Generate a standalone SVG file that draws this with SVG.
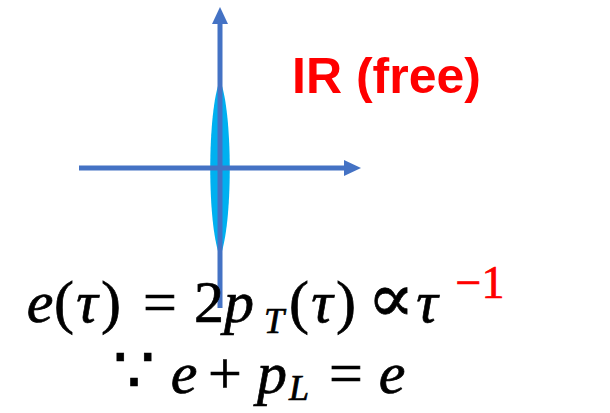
<svg xmlns="http://www.w3.org/2000/svg" width="610" height="413" viewBox="0 0 610 413">
<style>
.ax{stroke:#4472C4;stroke-width:5;fill:none}
.m{font-family:"Liberation Serif","DejaVu Serif",serif;fill:#000;stroke:#000;stroke-width:0.7;font-size:60px}
.i{font-style:italic}
.sub{font-size:36px;font-style:italic}
.dv{font-family:"DejaVu Serif",serif}
</style>
<defs>
<marker id="ah" markerUnits="userSpaceOnUse" markerWidth="17" markerHeight="17" refX="0" refY="8" orient="auto" viewBox="0 0 17 16">
<path d="M0,0 L17,8 L0,16 Z" fill="#4472C4"/>
</marker>
</defs>
<rect width="610" height="413" fill="#fff"/>
<g id="lens">
<path d="M220,80 C233,112 233,225 220,257 C207,225 207,112 220,80 Z" fill="#00B0F0"/>
</g>
<g id="connectors">
<line class="ax" x1="220" y1="308" x2="220" y2="24" marker-end="url(#ah)"/>
<line class="ax" x1="79" y1="168" x2="344" y2="168" marker-end="url(#ah)"/>
</g>
<g id="label">
<text x="292" y="93" font-family="Liberation Sans, Arial, sans-serif" font-weight="bold" font-size="50" fill="#FF0000">IR (free)</text>
</g>
<g id="eq1">
<text class="m" y="322" text-anchor="middle"><tspan class="i" x="40">e</tspan><tspan x="64">(</tspan><tspan class="i" x="87">τ</tspan><tspan x="111">)</tspan><tspan x="160">=</tspan><tspan x="209">2</tspan><tspan class="i" x="239">p</tspan><tspan class="sub" x="274" y="333">T</tspan><tspan x="299" y="322">(</tspan><tspan class="i" x="322">τ</tspan><tspan x="346">)</tspan><tspan class="dv" x="391" style="font-size:70px">∝</tspan><tspan class="i" x="427">τ</tspan><tspan x="480" y="298" style="font-size:46px" fill="#FF0000" stroke="#FF0000">−1</tspan></text>
</g>
<g id="eq2">
<text class="m" y="393" text-anchor="middle"><tspan class="dv" x="134" style="font-size:66px">∵</tspan><tspan class="i" x="184">e</tspan><tspan x="225">+</tspan><tspan class="i" x="272">p</tspan><tspan class="sub" x="299" y="400">L</tspan><tspan x="346" y="393">=</tspan><tspan class="i" x="392">e</tspan></text>
</g>
</svg>
